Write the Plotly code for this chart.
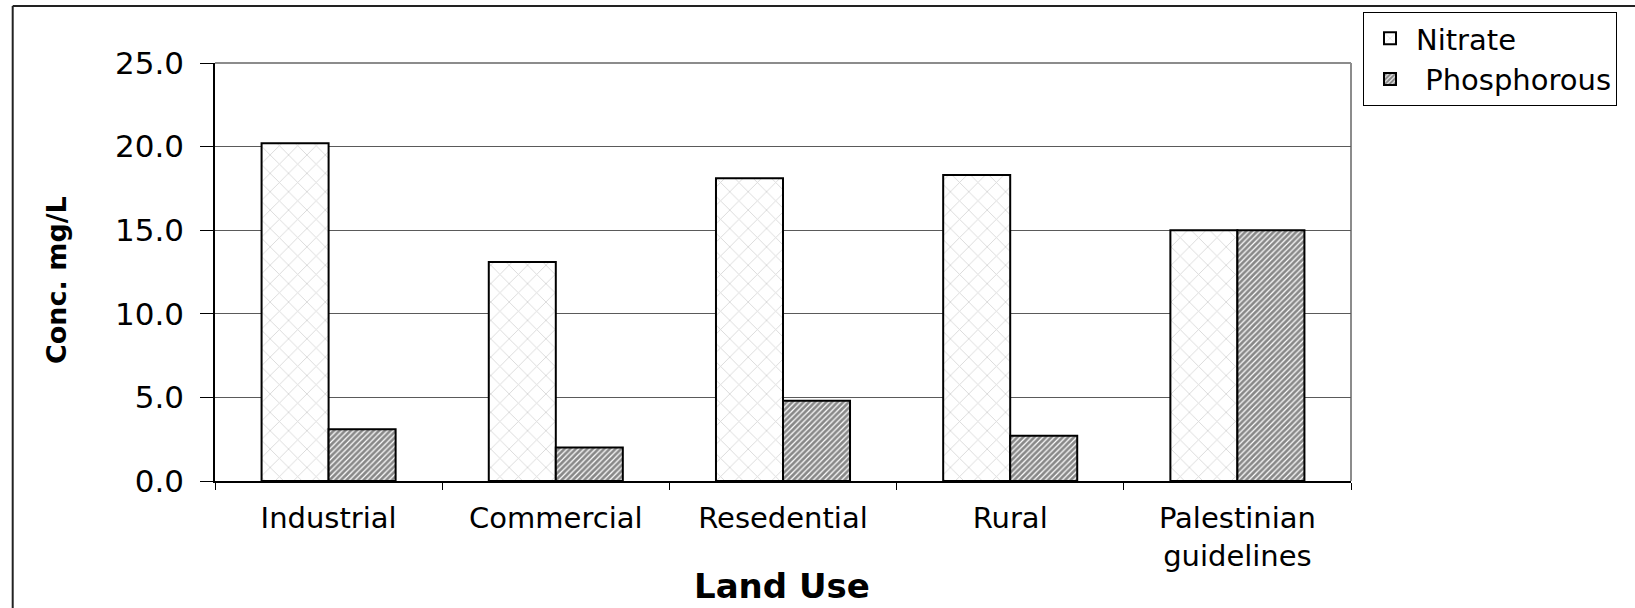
import plotly.graph_objects as go

# Land-use categories and measured concentrations (mg/L)
categories = ["Industrial", "Commercial", "Resedential", "Rural", "Palestinian<br>guidelines"]
nitrate = [20.2, 13.1, 18.1, 18.3, 15.0]
phosphorous = [3.1, 2.0, 4.8, 2.7, 15.0]
y_ticks = [0, 5, 10, 15, 20, 25]
y_tick_labels = ["0.0", "5.0", "10.0", "15.0", "20.0", "25.0"]

W, H = 1635, 608
L, R, T, B = 215, 284, 63, 127
pw, ph = W - L - R, H - T - B


def px_x(x):
    return (x - L) / pw


def px_y(y):
    return (H - B - y) / ph


FONT = "DejaVu Sans"

fig = go.Figure()
fig.add_trace(go.Bar(
    name="Nitrate", x=categories, y=nitrate,
    marker=dict(color="white", line=dict(color="black", width=2),
                pattern=dict(shape="x", fgcolor="#b4b4b4", bgcolor="white",
                             size=13, solidity=0.14)),
))
fig.add_trace(go.Bar(
    name="\u00a0Phosphorous", x=categories, y=phosphorous,
    marker=dict(color="white", line=dict(color="black", width=2),
                pattern=dict(shape="/", fgcolor="#111111", bgcolor="white",
                             size=4, solidity=0.7)),
))

fig.update_layout(
    width=W, height=H,
    margin=dict(l=L, r=R, t=T, b=B, autoexpand=False),
    paper_bgcolor="white", plot_bgcolor="white",
    barmode="group", bargap=0.41, bargroupgap=0,
    font=dict(family=FONT, color="black"),
    showlegend=True,
    legend=dict(x=px_x(1363), y=px_y(12), xanchor="left", yanchor="top",
                bordercolor="black", borderwidth=1, bgcolor="white",
                font=dict(family=FONT, size=29, color="black"),
                itemwidth=42, tracegroupgap=0),
    xaxis=dict(
        type="category", tickson="boundaries", ticks="outside", ticklen=7,
        tickcolor="black", tickwidth=1,
        showline=True, linecolor="black", linewidth=2,
        showgrid=False, tickfont=dict(family=FONT, size=29, color="black"),
        ticklabelstandoff=10,
    ),
    yaxis=dict(
        range=[0, 25], tickmode="array", tickvals=y_ticks, ticktext=y_tick_labels,
        ticks="outside", ticklen=13, tickcolor="black", tickwidth=1,
        showline=True, linecolor="black", linewidth=1.5,
        showgrid=True, gridcolor="#5a5a5a", gridwidth=1, zeroline=False,
        tickfont=dict(family=FONT, size=31, color="black"),
        ticklabelstandoff=10,
    ),
    annotations=[
        dict(text="<b>Conc. mg/L</b>", textangle=-90, xref="paper", yref="paper",
             x=px_x(56), y=px_y(280), xanchor="center", yanchor="middle",
             showarrow=False, font=dict(family=FONT, size=27, color="black")),
        dict(text="<b>Land Use</b>", xref="paper", yref="paper",
             x=px_x(782), y=px_y(586), xanchor="center", yanchor="middle",
             showarrow=False, font=dict(family=FONT, size=34, color="black")),
    ],
    shapes=[
        # plot-area frame, top and right edges
        dict(type="line", xref="paper", yref="paper", x0=0, x1=1, y0=1, y1=1,
             line=dict(color="#8c8c8c", width=2), layer="below"),
        dict(type="line", xref="paper", yref="paper", x0=1, x1=1, y0=0, y1=1,
             line=dict(color="#8c8c8c", width=2), layer="below"),
        # chart-area frame
        dict(type="line", xref="paper", yref="paper", x0=px_x(12.7), x1=px_x(1640),
             y0=px_y(6), y1=px_y(6), line=dict(color="#222", width=2)),
        dict(type="line", xref="paper", yref="paper", x0=px_x(12.7), x1=px_x(12.7),
             y0=px_y(6), y1=px_y(620), line=dict(color="#222", width=2)),
    ],
)

fig.write_html("out.html")
